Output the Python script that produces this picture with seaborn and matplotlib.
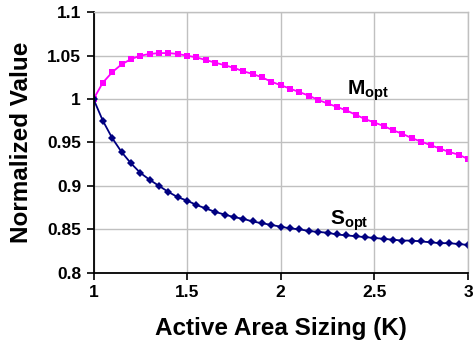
import numpy as np
import pandas as pd
import matplotlib
matplotlib.use("Agg")
import matplotlib.pyplot as plt
import seaborn as sns

# values, K from 1 to 3 in 0.05 steps
k_vals = [round(1 + 0.05 * i, 2) for i in range(41)]
m_opt = [1.000, 1.019, 1.031, 1.040, 1.046, 1.050, 1.052, 1.053, 1.053, 1.052,
         1.050, 1.048, 1.045, 1.042, 1.039, 1.036, 1.032, 1.029, 1.025, 1.020,
         1.016, 1.012, 1.008, 1.004, 0.999, 0.995, 0.991, 0.987, 0.982, 0.977,
         0.973, 0.969, 0.964, 0.960, 0.955, 0.951, 0.947, 0.943, 0.939, 0.936,
         0.931]
s_opt = [1.000, 0.975, 0.955, 0.939, 0.926, 0.915, 0.907, 0.900, 0.893, 0.887,
         0.883, 0.878, 0.874, 0.870, 0.867, 0.864, 0.862, 0.859, 0.857, 0.855,
         0.853, 0.851, 0.850, 0.848, 0.847, 0.846, 0.844, 0.843, 0.842, 0.841,
         0.840, 0.839, 0.838, 0.837, 0.837, 0.836, 0.835, 0.834, 0.834, 0.833,
         0.832]
x_ticks = [1, 1.5, 2, 2.5, 3]
y_ticks = [0.8, 0.85, 0.9, 0.95, 1, 1.05, 1.1]
x_ticklabels = ["1", "1.5", "2", "2.5", "3"]
y_ticklabels = ["0.8", "0.85", "0.9", "0.95", "1", "1.05", "1.1"]

sns.set_theme(style="whitegrid", rc={
    "xtick.bottom": True, "ytick.left": True,
    "xtick.major.size": 5, "ytick.major.size": 5,
    "xtick.major.width": 1.2, "ytick.major.width": 1.2,
    "xtick.color": "black", "ytick.color": "black",
    "text.color": "black", "axes.labelcolor": "black",
})
plt.rcParams["font.family"] = ["Liberation Sans", "DejaVu Sans"]
plt.rcParams["font.weight"] = "bold"
plt.rcParams["mathtext.fontset"] = "custom"
plt.rcParams["mathtext.bf"] = "Liberation Sans:bold"
plt.rcParams["mathtext.rm"] = "Liberation Sans:bold"
plt.rcParams["mathtext.it"] = "Liberation Sans:bold"

df = pd.DataFrame({
    "K": k_vals * 2,
    "value": m_opt + s_opt,
    "series": ["M"] * len(k_vals) + ["S"] * len(k_vals),
})

fig = plt.figure(figsize=(4.73, 3.51), dpi=100)
ax = fig.add_axes([0.1977, 0.2231, 0.7917, 0.7419])
ax.set_facecolor("white")

sns.lineplot(data=df[df["series"] == "M"], x="K", y="value", color="#FF00FF",
             marker="s", markersize=4.5, markeredgewidth=0, linewidth=1.3, ax=ax)
sns.lineplot(data=df[df["series"] == "S"], x="K", y="value", color="#000080",
             marker="D", markersize=3.6, markeredgewidth=0, linewidth=1.3, ax=ax)

ax.set_xlim(1, 3)
ax.set_ylim(0.8, 1.1)
ax.set_xticks(x_ticks)
ax.set_xticklabels(x_ticklabels)
ax.set_yticks(y_ticks)
ax.set_yticklabels(y_ticklabels)
ax.tick_params(axis="both", labelsize=12.5, direction="out", length=5, width=1.2,
               color="black", labelcolor="black", pad=4, left=True, bottom=True)
for lab in ax.get_xticklabels() + ax.get_yticklabels():
    lab.set_fontweight("bold")

ax.grid(True, color="#C0C0C0", linewidth=1.0)
for side in ["left", "bottom"]:
    ax.spines[side].set_color("black")
    ax.spines[side].set_linewidth(1.3)
for side in ["top", "right"]:
    ax.spines[side].set_color("#C0C0C0")
    ax.spines[side].set_linewidth(1.0)

ax.set_xlabel("Active Area Sizing (K)", fontsize=17.5, fontweight="bold",
              color="black", labelpad=12)
ax.set_ylabel("Normalized Value", fontsize=17.5, fontweight="bold",
              color="black", labelpad=10)

ax.text(2.353, 1.0046, r"$\mathbf{M}_{\mathbf{opt}}$", fontsize=15,
        ha="left", va="baseline", color="black")
ax.text(2.263, 0.8548, r"$\mathbf{S}_{\mathbf{opt}}$", fontsize=15,
        ha="left", va="baseline", color="black")

fig.savefig("out.png", dpi=100)
